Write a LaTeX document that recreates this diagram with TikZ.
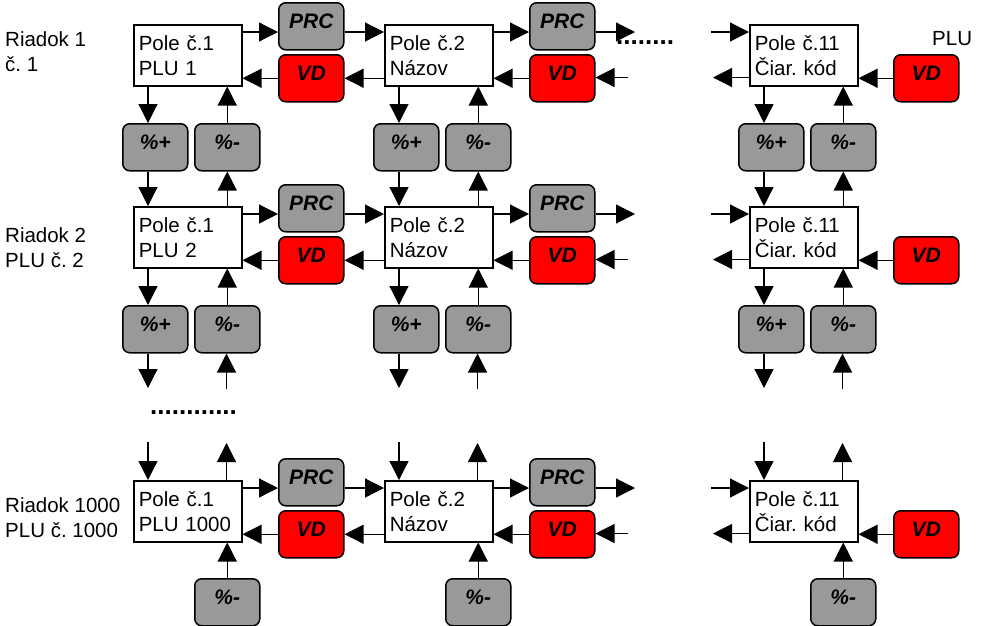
\documentclass[tikz,border=0pt]{standalone}
\usepackage{fontspec}
\setmainfont{Liberation Sans}
\usepackage{tikz}
\usetikzlibrary{arrows.meta}
\definecolor{keyGray}{HTML}{999999}
\definecolor{keyRed}{HTML}{FF0000}
\frenchspacing

\begin{document}
\begin{tikzpicture}[x=1pt,y=-1pt,
    every node/.style={font=\fontsize{20.5}{25}\selectfont},
    pole/.style={draw,line width=1.5pt,anchor=north west,minimum width=108pt,minimum height=61pt,text width=98pt,inner xsep=5pt,align=left},
    key/.style={draw,line width=1.5pt,rounded corners=7pt,anchor=north west,minimum width=65pt,minimum height=47pt,inner sep=0pt,text height=15pt,text depth=11pt,font=\fontsize{21}{21}\selectfont\bfseries\itshape},
    grey key/.style={key,fill=keyGray},
    red key/.style={key,fill=keyRed},
    arr/.style={line width=1.2pt,-{Triangle[length=19pt,width=19pt]}},
    rowlabel/.style={anchor=north west,inner sep=0pt,align=left},
    dots/.style={anchor=base west,inner sep=0pt,font=\fontsize{26}{26}\selectfont\bfseries}]
    \useasboundingbox (0,0) rectangle (981,625);

    % Rows: fields with PRC and VD keys
    \foreach \row/\y/\ly/\txt/\lab in {1/24/31/{PLU 1}/{Riadok 1\\č. 1},
                                       2/206/227/{PLU 2}/{Riadok 2\\PLU č. 2},
                                       3/480/497/{PLU 1000}/{Riadok 1000\\PLU č. 1000}}{
        \node[rowlabel] (lab\row) at (5,\ly) {\lab};
        \node[pole] (p\row1) at (133,\y) {Pole č.1\\\txt};
        \node[grey key] (prc\row1) at (278,\y-22) {PRC};
        \node[red key] (vd\row1) at (278,\y+30) {VD};
        \node[pole] (p\row2) at (384,\y) {Pole č.2\\Názov};
        \node[grey key] (prc\row2) at (529,\y-22) {PRC};
        \node[red key] (vd\row2) at (529,\y+30) {VD};
        \node[pole] (p\row3) at (749,\y) {Pole č.11\\Čiar. kód};
        \node[red key] (vd\row3) at (893,\y+30) {VD};

        \draw[arr] ([yshift=-8pt]p\row1.north east) -- ([yshift=-8pt]p\row1.north east -| prc\row1.west);
        \draw[arr] (vd\row1.west) -- (vd\row1.west -| p\row1.east);
        \draw[arr] ([yshift=-8pt]p\row2.north west -| prc\row1.east) -- ([yshift=-8pt]p\row2.north west);
        \draw[arr] (vd\row1.east -| p\row2.west) -- (vd\row1.east);
        \draw[arr] ([yshift=-8pt]p\row2.north east) -- ([yshift=-8pt]p\row2.north east -| prc\row2.west);
        \draw[arr] (vd\row2.west) -- (vd\row2.west -| p\row2.east);
        % open ends towards the next fields
        \coordinate (out\row) at (635,\y+8);
        \coordinate (in\row) at (628,\y+53.5);
        \draw[arr] (out\row -| prc\row2.east) -- (out\row);
        \draw[arr] (in\row) -- (in\row -| vd\row2.east);
        \coordinate (w\row) at (711,\y+8);
        \coordinate (x\row) at (713,\y+53.5);
        \draw[arr] (w\row) -- (w\row -| p\row3.west);
        \draw[arr] (x\row -| p\row3.west) -- (x\row);
        \draw[arr] (vd\row3.west) -- (vd\row3.west -| p\row3.east);
    }

    % Discount keys under the fields
    \foreach \col/\bx in {1/133,2/384,3/749}{
        \foreach \row/\y in {1/24,2/206}{
            \node[grey key] (pl\row\col) at (\bx-11,\y+99) {\%+};
            \node[grey key] (mi\row\col) at (\bx+61,\y+99) {\%-};
            \draw[arr] ([xshift=15pt]p\row\col.south west) -- ([xshift=15pt]p\row\col.south west |- pl\row\col.north);
            \draw[arr] (mi\row\col.north) -- (mi\row\col.north |- p\row\col.south);
        }
        \node[grey key] (mi3\col) at (\bx+61,578) {\%-};
        \draw[arr] (mi3\col.north) -- (mi3\col.north |- p3\col.south);
        \draw[arr] ([xshift=15pt]p2\col.north west |- pl1\col.south) -- ([xshift=15pt]p2\col.north west);
        \draw[arr] (mi1\col.south |- p2\col.north) -- (mi1\col.south);
        % open ends below row 2 and above the last row
        \coordinate (d\col) at (\bx+15,388);
        \coordinate (u\col) at (\bx+93.5,389);
        \draw[arr] (d\col |- pl2\col.south) -- (d\col);
        \draw[arr] (u\col) -- (u\col |- mi2\col.south);
        \coordinate (e\col) at (\bx+15,442);
        \coordinate (f\col) at (\bx+93.5,443);
        \draw[arr] (e\col) -- (e\col |- p3\col.north);
        \draw[arr] (f\col |- p3\col.north) -- (f\col);
    }

    \node[anchor=base west,inner sep=0pt] (plu) at (932,45) {PLU};
    \node[dots] (dots1) at (616,44) {........};
    \node[dots] (dots2) at (150,414) {............};
\end{tikzpicture}
\end{document}
